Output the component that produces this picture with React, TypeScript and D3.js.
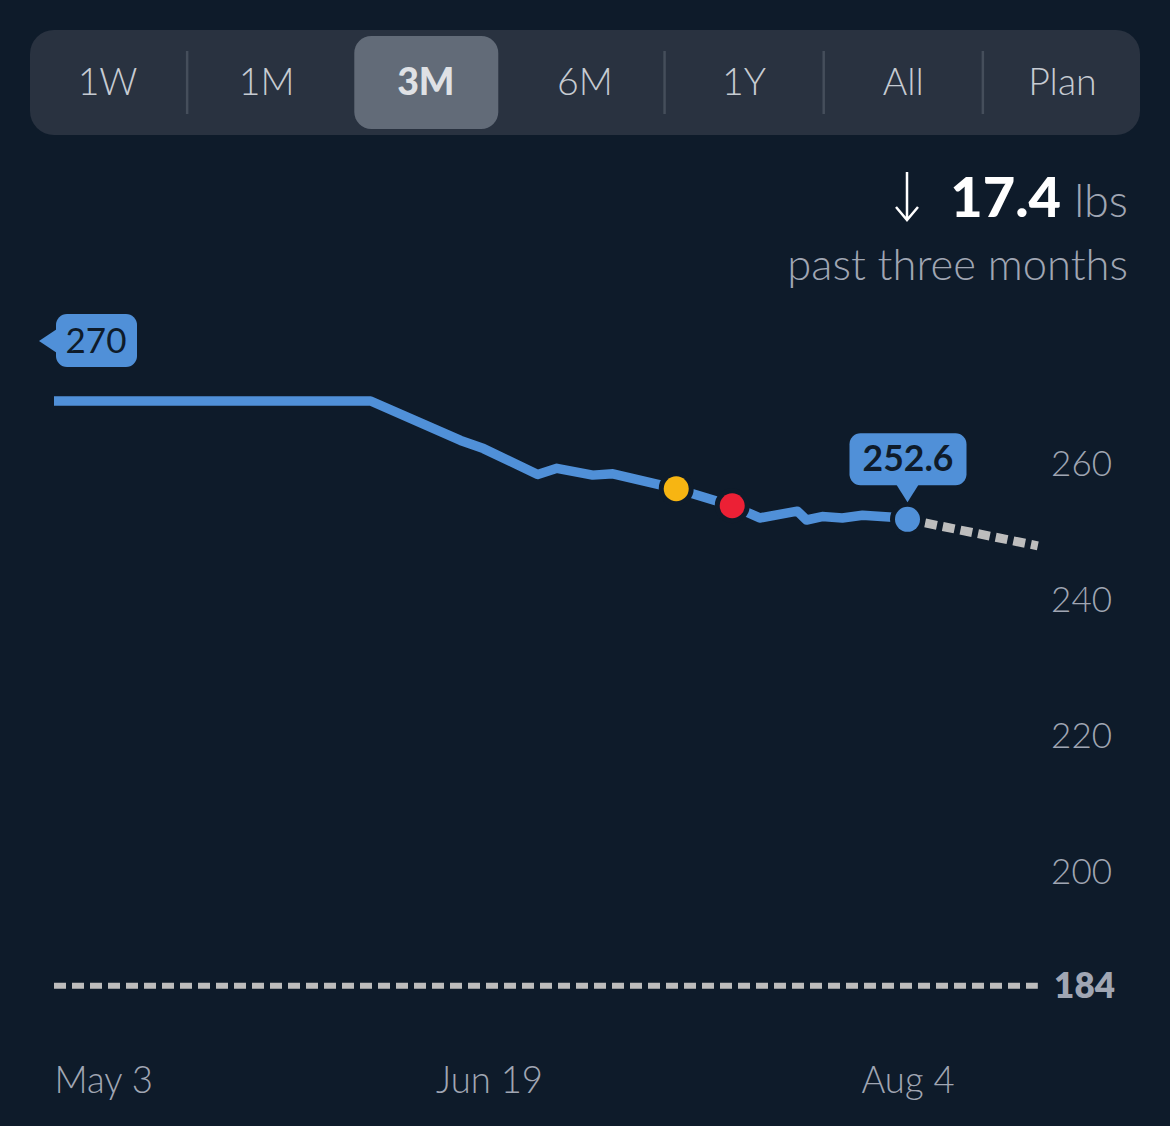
import { useRef, useEffect } from "react";
import * as d3 from "d3";

const BG = "#0e1b2a";
const PANEL = "#293240";
const ACTIVE = "#626b78";
const DIVIDER = "#454e5b";
const TAB_TEXT = "#c6cbd2";
const MUTED = "#a0a6b3";
const BLUE = "#5090d8";
const GREY = "#bdbdbd";
const FONT = "Lato, 'Open Sans', sans-serif";

const tabs = ["1W", "1M", "3M", "6M", "1Y", "All", "Plan"];
const activeTab = "3M";
const dividersAfter = ["1W", "6M", "1Y", "All"];

// days since May 3
const weightDays = [0, 34.5, 44.3, 46.8, 52.7, 54.8, 58.7, 60.9, 67.8, 73.9, 76.9, 81, 82, 83.7, 85.9, 88.1, 91.4, 93];
const weightValues = [270, 270, 264.2, 263, 259.2, 260.1, 259.1, 259.3, 257.1, 254.6, 252.8, 253.8, 252.5, 253, 252.8, 253.2, 252.9, 252.6];
const projectionDays = [93, 107.2];
const projectionValues = [252.6, 248.7];
const goalValue = 184;
const endDay = 107.2;
const yellowMark = { day: 67.8, value: 257.1, color: "#f7b512" };
const redMark = { day: 73.9, value: 254.6, color: "#ec2035" };
const yTicks = [260, 240, 220, 200, 184];
const xTickDays = [0, 47.4, 93];
const xTickLabels = ["May 3", "Jun 19", "Aug 4"];

export default function App() {
  const svgRef = useRef<SVGSVGElement>(null);

  useEffect(() => {
    if (!svgRef.current) return;
    const svg = d3.select(svgRef.current);
    svg.selectAll("*").remove();
    svg.append("rect").attr("width", 1170).attr("height", 1126).attr("fill", BG);

    // ─── RANGE TABS ───────────────────────────────────
    const band = d3.scaleBand().domain(tabs).range([28, 1142]);
    svg.append("rect").attr("x", 30).attr("y", 30).attr("width", 1110).attr("height", 105)
      .attr("rx", 24).attr("fill", PANEL);
    svg.append("rect").attr("x", band(activeTab)! + 8).attr("y", 36).attr("width", 144).attr("height", 93)
      .attr("rx", 17).attr("fill", ACTIVE);
    svg.selectAll(".divider").data(dividersAfter).join("line")
      .attr("x1", (d) => band(d)! + band.bandwidth()).attr("x2", (d) => band(d)! + band.bandwidth())
      .attr("y1", 51).attr("y2", 114).attr("stroke", DIVIDER).attr("stroke-width", 2.5);
    svg.selectAll(".tab").data(tabs).join("text")
      .attr("x", (d) => band(d)! + band.bandwidth() / 2).attr("y", 95)
      .attr("text-anchor", "middle").attr("font-family", FONT).attr("font-size", 37.5)
      .attr("font-weight", (d) => (d === activeTab ? 900 : 300))
      .attr("fill", (d) => (d === activeTab ? "#dfe1e5" : TAB_TEXT))
      .text((d) => d);

    // ─── SUMMARY ──────────────────────────────────────
    svg.append("path").attr("d", "M907 172V219M896 207L907 220L918 207")
      .attr("fill", "none").attr("stroke", "#ffffff").attr("stroke-width", 2.5);
    svg.append("text").attr("x", 1061).attr("y", 217).attr("text-anchor", "end")
      .attr("font-family", FONT).attr("font-size", 56).attr("font-weight", 900)
      .attr("fill", "#ffffff").text("17.4");
    svg.append("text").attr("x", 1128).attr("y", 217).attr("text-anchor", "end")
      .attr("font-family", FONT).attr("font-size", 45).attr("font-weight", 300)
      .attr("fill", MUTED).text("lbs");
    svg.append("text").attr("x", 1128).attr("y", 280).attr("text-anchor", "end")
      .attr("font-family", FONT).attr("font-size", 43.5).attr("font-weight", 300)
      .attr("fill", MUTED).text("past three months");

    // ─── SCALES ───────────────────────────────────────
    const x = d3.scaleLinear().domain([0, 93]).range([54, 907.5]);
    const y = d3.scaleLinear().domain([270, 184]).range([401, 985.8]);
    const line = d3.line<[number, number]>().x((d) => x(d[0])).y((d) => y(d[1]));

    // goal + projection
    svg.append("path").attr("d", line([[0, goalValue], [endDay, goalValue]]))
      .attr("fill", "none").attr("stroke", GREY).attr("stroke-width", 6).attr("stroke-dasharray", "12 6");
    svg.append("path")
      .attr("d", line(d3.zip(projectionDays, projectionValues) as [number, number][]))
      .attr("fill", "none").attr("stroke", GREY).attr("stroke-width", 9).attr("stroke-dasharray", "12 6");

    // weight line
    svg.append("path")
      .attr("d", line(d3.zip(weightDays, weightValues) as [number, number][]))
      .attr("fill", "none").attr("stroke", BLUE).attr("stroke-width", 9.5).attr("stroke-linejoin", "round");

    // markers
    svg.selectAll(".mark").data([yellowMark, redMark]).join("circle")
      .attr("cx", (d) => x(d.day)).attr("cy", (d) => y(d.value)).attr("r", 12.5)
      .attr("fill", (d) => d.color).attr("stroke", BG).attr("stroke-width", 10).attr("paint-order", "stroke");
    const lastX = x(weightDays[weightDays.length - 1]);
    const lastY = y(weightValues[weightValues.length - 1]);
    svg.append("circle").attr("cx", lastX).attr("cy", lastY).attr("r", 12.5)
      .attr("fill", BLUE).attr("stroke", BG).attr("stroke-width", 10).attr("paint-order", "stroke");

    // ─── CALLOUTS ─────────────────────────────────────
    const startTip = svg.append("g").attr("transform", `translate(${x(0)},${y(270)})`);
    startTip.append("path").attr("d", "M3 -72L-15 -60L3 -48Z").attr("fill", BLUE);
    startTip.append("rect").attr("x", 2).attr("y", -87).attr("width", 81).attr("height", 53).attr("rx", 11).attr("fill", BLUE);
    startTip.append("text").attr("x", 42).attr("y", -48).attr("text-anchor", "middle")
      .attr("font-family", FONT).attr("font-size", 35).attr("fill", BG).text(weightValues[0]);

    const endTip = svg.append("g").attr("transform", `translate(${lastX},${lastY})`);
    endTip.append("path").attr("d", "M-12 -36L0 -17L12 -36Z").attr("fill", BLUE);
    endTip.append("rect").attr("x", -58).attr("y", -86).attr("width", 117).attr("height", 52).attr("rx", 11).attr("fill", BLUE);
    endTip.append("text").attr("x", 0.5).attr("y", -48).attr("text-anchor", "middle")
      .attr("font-family", FONT).attr("font-size", 35.5).attr("font-weight", 700).attr("fill", BG)
      .text(weightValues[weightValues.length - 1]);

    // ─── AXES ─────────────────────────────────────────
    const yAxis = svg.append("g").call(d3.axisRight(y).tickValues(yTicks).tickSize(0).tickFormat((d) => String(d)));
    yAxis.select(".domain").remove();
    yAxis.selectAll<SVGTextElement, number>("text")
      .attr("x", (d) => (d === goalValue ? 1115 : 1112)).attr("text-anchor", "end")
      .attr("dy", (d) => (d === goalValue ? 12 : 6))
      .attr("font-family", FONT).attr("font-size", 35)
      .attr("font-weight", (d) => (d === goalValue ? 800 : 300))
      .attr("fill", MUTED);

    const xAxis = svg.append("g").attr("transform", "translate(0,1060)")
      .call(d3.axisBottom(x).tickValues(xTickDays).tickSize(0).tickFormat((_, i) => xTickLabels[i]));
    xAxis.select(".domain").remove();
    xAxis.selectAll<SVGTextElement, number>("text")
      .attr("y", 33).attr("dy", 0)
      .attr("text-anchor", (d) => (d === 0 ? "start" : "middle"))
      .attr("font-family", FONT).attr("font-size", 36.5).attr("font-weight", 300)
      .attr("fill", MUTED);
  }, []);

  return (
    <svg
      ref={svgRef}
      width={1170}
      height={1126}
      viewBox="0 0 1170 1126"
      style={{ position: "absolute", left: 0, top: 0, display: "block" }}
    />
  );
}
